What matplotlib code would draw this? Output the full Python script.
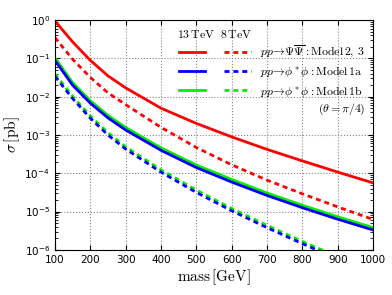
import matplotlib
matplotlib.use("Agg")
import matplotlib.pyplot as plt
from matplotlib.legend_handler import HandlerTuple


# mass points [GeV] and cross sections [pb]
mass = [100, 150, 200, 250, 300, 400, 500, 600, 700, 800, 900, 1000]

# Model 2,3 (pp -> Psi Psibar)
psi_13 = [0.95, 0.27, 0.089, 0.035, 0.017, 5.0e-3, 2.0e-3, 8.9e-4, 4.2e-4, 2.1e-4, 1.07e-4, 5.6e-5]
psi_8 = [0.35, 0.095, 0.032, 0.0126, 6.2e-3, 1.58e-3, 4.7e-4, 1.66e-4, 6.6e-5, 2.9e-5, 1.32e-5, 6.2e-6]

# Model 1a (pp -> phi* phi)
m1a_13 = [0.089, 0.020, 6.8e-3, 2.8e-3, 1.35e-3, 3.98e-4, 1.41e-4, 5.9e-5, 2.63e-5, 1.26e-5, 6.3e-6, 3.3e-6]
m1a_8 = [0.034, 9.0e-3, 2.75e-3, 1.0e-3, 4.3e-4, 1.07e-4, 3.16e-5, 1.05e-5, 3.8e-6, 1.45e-6, 5.8e-7, 2.4e-7]

# Model 1b (pp -> phi* phi)
m1b_13 = [0.104, 0.0233, 7.9e-3, 3.25e-3, 1.57e-3, 4.6e-4, 1.64e-4, 6.9e-5, 3.05e-5, 1.46e-5, 7.3e-6, 3.8e-6]
m1b_8 = [0.039, 0.0103, 3.15e-3, 1.15e-3, 4.9e-4, 1.23e-4, 3.63e-5, 1.2e-5, 4.35e-6, 1.66e-6, 6.6e-7, 2.75e-7]

labels = [r"$pp\!\to\!\Psi\overline{\Psi}: \mathrm{Model\,2,\,3}$",
          r"$pp\!\to\!\phi^*\phi: \mathrm{Model\,1a}$",
          r"$pp\!\to\!\phi^*\phi: \mathrm{Model\,1b}$"]

dash = (0, (1.8, 1.4))
lw = 2.0

fig = plt.figure(figsize=(3.92, 2.95), dpi=100)
ax = fig.add_axes([0.140, 0.153, 0.812, 0.779])

g13, = ax.plot(mass, m1b_13, color="#00f000", lw=lw)
g8, = ax.plot(mass, m1b_8, color="#00f000", lw=lw, ls=dash)
b13, = ax.plot(mass, m1a_13, color="#0000ff", lw=lw)
b8, = ax.plot(mass, m1a_8, color="#0000ff", lw=lw, ls=dash)
r13, = ax.plot(mass, psi_13, color="#ff0000", lw=lw)
r8, = ax.plot(mass, psi_8, color="#ff0000", lw=lw, ls=dash)

ax.set_yscale("log")
ax.set_xlim(100, 1000)
ax.set_ylim(1e-6, 1)
ax.set_xticks(range(100, 1001, 100))
ax.tick_params(which="both", direction="in", top=True, right=True, labelsize=7.5)
ax.tick_params(axis="x", which="minor", bottom=False, top=False)
ax.grid(True, which="major", ls=":", color="#888888", lw=0.8)

ax.set_xlabel(r"$\mathrm{mass\,[GeV]}$", fontsize=11, math_fontfamily="cm", labelpad=2)
ax.set_ylabel(r"$\sigma\,[\mathrm{pb}]$", fontsize=11, math_fontfamily="cm", labelpad=2)

leg = ax.legend([(r13, r8), (b13, b8), (g13, g8)], labels,
                handler_map={tuple: HandlerTuple(ndivide=None, pad=1.6)},
                handlelength=6.1, handletextpad=0.75, labelspacing=0.35,
                frameon=False, fontsize=8.5, loc="upper right",
                bbox_to_anchor=(1.005, 0.942))
for t in leg.get_texts():
    t.set_math_fontfamily("cm")

ax.text(0.385, 0.935, r"$\mathrm{13\,TeV\ \ 8\,TeV}$", transform=ax.transAxes,
        fontsize=8.5, math_fontfamily="cm", va="center")
ax.text(0.975, 0.612, r"$(\theta=\pi/4)$", transform=ax.transAxes,
        fontsize=8.5, math_fontfamily="cm", va="center", ha="right")

fig.savefig("out.png", dpi=100)
